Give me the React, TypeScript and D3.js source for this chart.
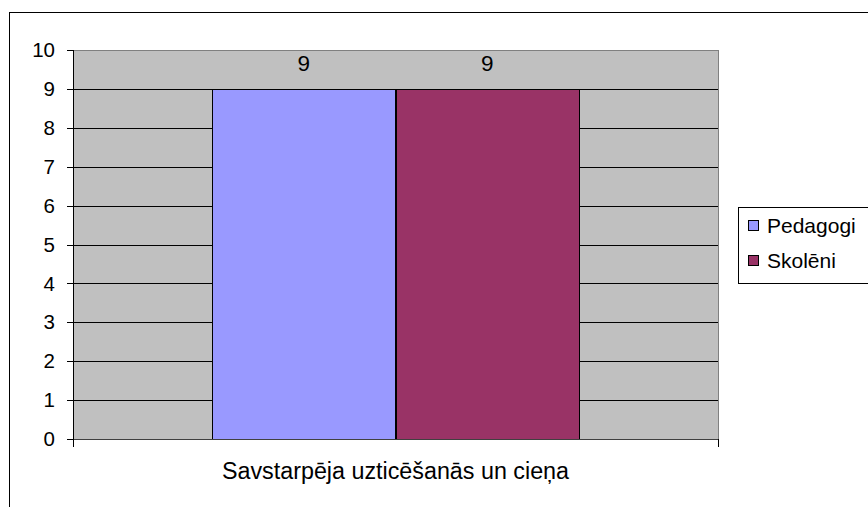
import React from "react";
import * as d3 from "d3";

const categories = ["Savstarpēja uzticēšanās un cieņa"];
const seriesNames = ["Pedagogi", "Skolēni"];
const seriesValues = [[9], [9]];
const seriesColors = ["#9999FF", "#993366"];
const yTicks = [0, 1, 2, 3, 4, 5, 6, 7, 8, 9, 10];

const W = 868;
const H = 507;
const plot = { left: 73, top: 50, right: 718, bottom: 439 };
const FONT = "'Liberation Sans', Arial, sans-serif";

export default function App() {
  const y = d3.scaleLinear().domain([0, 10]).range([plot.bottom, plot.top]);
  const x0 = d3.scaleBand().domain(categories).range([plot.left, plot.right]).paddingInner(0).paddingOuter(0.379);
  const x1 = d3.scaleBand().domain(seriesNames).range([0, x0.bandwidth()]).padding(0);

  return (
    <svg width={W} height={H} style={{ position: "absolute", left: 0, top: 0 }} fontFamily={FONT}>
      <rect x={0} y={0} width={W} height={H} fill="#fff" />
      <rect x={9.5} y={12.5} width={W + 10} height={H + 10} fill="none" stroke="#000" strokeWidth={1} />
      <rect x={plot.left} y={plot.top} width={plot.right - plot.left} height={plot.bottom - plot.top} fill="#C0C0C0" />
      {yTicks.map((t) => (
        <g key={t}>
          {t > 0 && t < 10 && (
            <line x1={plot.left} x2={plot.right} y1={Math.round(y(t)) + 0.5} y2={Math.round(y(t)) + 0.5} stroke="#000" />
          )}
          <line x1={plot.left - 6} x2={plot.left} y1={Math.round(y(t)) + 0.5} y2={Math.round(y(t)) + 0.5} stroke="#000" />
          <text x={55} y={y(t)} dy="0.35em" textAnchor="end" fontSize={20.5} fill="#000">{t}</text>
        </g>
      ))}
      <line x1={plot.left} x2={plot.right} y1={plot.top + 0.5} y2={plot.top + 0.5} stroke="#808080" />
      <line x1={plot.right + 0.5} x2={plot.right + 0.5} y1={plot.top} y2={plot.bottom} stroke="#808080" />
      {categories.map((c, ci) => (
        <g key={c}>
          {seriesNames.map((s, si) => {
            const bx = (x0(c) as number) + (x1(s) as number);
            const v = seriesValues[si][ci];
            return (
              <g key={s}>
                <rect x={Math.round(bx) + 0.5} y={Math.round(y(v)) + 0.5} width={Math.round(x1.bandwidth())} height={Math.round(plot.bottom - y(v))} fill={seriesColors[si]} stroke="#000" />
                <text x={bx + x1.bandwidth() / 2} y={y(v) - 26} dy="0.35em" textAnchor="middle" fontSize={22.5} fill="#000">{v}</text>
              </g>
            );
          })}
          <text x={(x0(c) as number) + x0.bandwidth() / 2} y={471} dy="0.35em" textAnchor="middle" fontSize={23.3} fill="#000">{c}</text>
        </g>
      ))}
      <line x1={plot.left} x2={plot.right} y1={plot.bottom + 0.5} y2={plot.bottom + 0.5} stroke="#404040" />
      <line x1={plot.left + 0.5} x2={plot.left + 0.5} y1={plot.top} y2={plot.bottom + 8} stroke="#000" />
      <line x1={plot.right + 0.5} x2={plot.right + 0.5} y1={plot.bottom} y2={plot.bottom + 8} stroke="#000" />
      <rect x={738.5} y={207.5} width={200} height={76} fill="#fff" stroke="#000" />
      {seriesNames.map((s, i) => (
        <g key={s}>
          <rect x={748.5} y={220.5 + i * 35} width={10} height={10} fill={seriesColors[i]} stroke="#000" />
          <text x={767} y={225.5 + i * 35} dy="0.35em" fontSize={21} fill="#000">{s}</text>
        </g>
      ))}
    </svg>
  );
}
